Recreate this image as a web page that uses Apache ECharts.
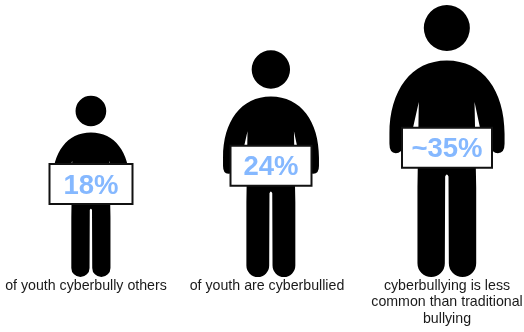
<!DOCTYPE html>
<html>
<head>
<meta charset="utf-8">
<style>html,body{margin:0;padding:0;background:#fff}#chart{width:524px;height:332px}</style>
<script src="https://cdn.jsdelivr.net/npm/echarts@6/dist/echarts.min.js"></script>
</head>
<body>
<div id="chart"></div>
<script>
// Share of youth per statement
const categories = [
  'of youth cyberbully others',
  'of youth are cyberbullied',
  'cyberbullying is less\ncommon than traditional\nbullying'
];
const values = [18, 24, 35];
const valueLabels = ['18%', '24%', '~35%'];

// Figures grow one step per rank; the empty steps raise the smallest figure off the floor.
const rankSteps = ['r0', 'r1', 'r2', 'r3'].concat(valueLabels);

// Person pictogram: head, then arms, torso and legs.
const PERSON = 'M193 83A69 69 0 1 1 331 83A69 69 0 1 1 193 83Z' +
  'M262 180C370 180 435 270 435 400L435 430Q435 458 415 458Q397 458 390 435L362 385L345 305' +
  'L350 560L350 788A41 41 0 0 1 268 788L267 528Q262 516 257 528L256 788A41 41 0 0 1 174 788' +
  'L174 560L178 305L160 385L134 435Q127 458 109 458Q90 458 90 430L90 400C90 270 155 180 262 180Z';
const PERSON_ASPECT = 345 / 815;

// Fine placement of each column around its axis position.
const figureNudge = [0, 2, 0];
const captionNudge = [-5, -2, 0];
const boardWidth = [83, 81, 90];
const BOARD_HEIGHT = 40;

function renderPerson(params, api) {
  const i = params.dataIndex;
  const top = api.coord([api.value(0), api.value(1)]);
  const floorY = params.coordSys.y + params.coordSys.height;
  const h = floorY - top[1];
  const w = h * PERSON_ASPECT;
  const cx = top[0] + figureNudge[i];
  const boardCy = floorY - (0.4 * h + 20.5);
  const bw = boardWidth[i];
  return {
    type: 'group',
    children: [
      {
        type: 'path',
        shape: { pathData: PERSON, x: cx - w / 2, y: top[1], width: w, height: h, layout: 'cover' },
        style: { fill: '#000' }
      },
      {
        type: 'rect',
        shape: { x: cx - bw / 2, y: boardCy - BOARD_HEIGHT / 2, width: bw, height: BOARD_HEIGHT },
        style: { fill: '#fff', stroke: '#111', lineWidth: 2 }
      },
      {
        type: 'text',
        style: {
          text: valueLabels[i], x: cx, y: boardCy + 2,
          align: 'center', verticalAlign: 'middle',
          fontFamily: '"Liberation Sans"', fontWeight: 'bold', fontSize: 27.5, fill: '#85B8FF'
        }
      },
      {
        type: 'text',
        style: {
          text: categories[i], x: top[0] + captionNudge[i], y: floorY + 0.5,
          align: 'center', verticalAlign: 'top', lineHeight: 16.5,
          fontFamily: '"Liberation Sans"', fontSize: 14.2, fill: '#1a1a1a'
        }
      }
    ]
  };
}

const chart = echarts.init(document.getElementById('chart'), null, { renderer: 'canvas' });
chart.setOption({
  animation: false,
  backgroundColor: '#fff',
  grid: { left: 2, width: 534, top: 5, bottom: 55, outerBoundsMode: 'none' },
  xAxis: { type: 'category', data: categories, show: false },
  yAxis: { type: 'category', data: rankSteps, boundaryGap: false, show: false },
  tooltip: { show: false },
  series: [{
    type: 'custom',
    name: 'share of youth',
    coordinateSystem: 'cartesian2d',
    encode: { x: 0, y: 1 },
    data: values.map((v, i) => [categories[i], valueLabels[i], v]),
    renderItem: renderPerson,
    clip: false
  }]
});
</script>
</body>
</html>
